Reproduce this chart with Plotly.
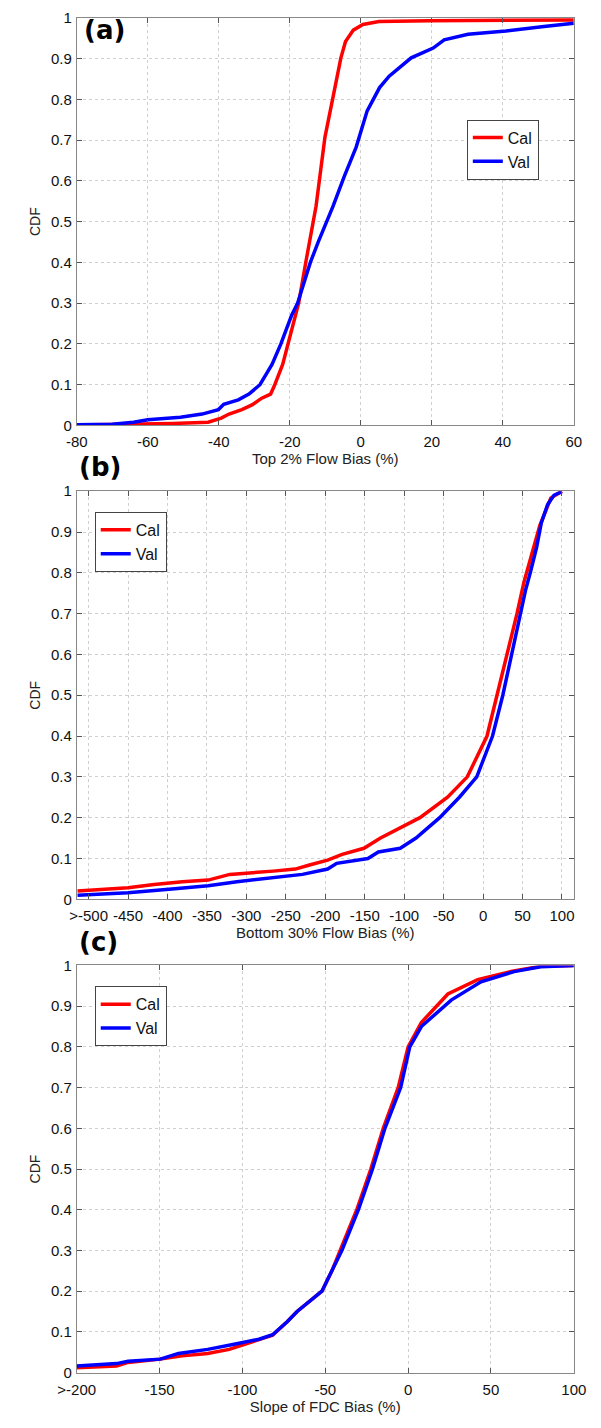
import plotly.graph_objects as go

# ---- Panel (a): Top 2% flow bias ----
a_cal_x = [-80, -63, -53, -43, -41.6, -39.3, -37.1, -33.5, -30.5, -27.9, -25.4, -24.4,
           -22, -20.5, -17.5, -15.5, -13.5, -12.6, -10.1, -7.9, -5.6, -4.3, -2.1, 0.6,
           5.1, 19.3, 60]
a_cal_y = [0.001, 0.003, 0.005, 0.008, 0.011, 0.018, 0.028, 0.039, 0.051, 0.067, 0.077, 0.096,
           0.15, 0.2, 0.3, 0.4, 0.5, 0.538, 0.707, 0.805, 0.902, 0.942, 0.97, 0.984,
           0.991, 0.993, 0.995]
a_val_x = [-80, -70, -64, -60, -50.8, -44.7, -40.1, -38.6, -34.5, -31.5, -28.4, -26.4,
           -25, -22.5, -19.5, -17.8, -14.2, -12, -9.5, -7.8, -4.7, -1.3, 1.8, 5.3, 8,
           14.2, 20.4, 23.5, 30.2, 40.9, 51.6, 60]
a_val_y = [0.002, 0.003, 0.008, 0.014, 0.02, 0.028, 0.039, 0.052, 0.063, 0.077, 0.1, 0.13,
           0.15, 0.2, 0.27, 0.3, 0.4, 0.45, 0.5, 0.538, 0.61, 0.683, 0.772, 0.829, 0.857,
           0.902, 0.926, 0.946, 0.96, 0.968, 0.979, 0.987]

# ---- Panel (b): Bottom 30% flow bias ----
b_cal_x = [-514, -450, -417, -381, -348.5, -321, -266, -238, -220, -197, -178.6, -151,
           -130, -80, -45, -20, 5, 18, 30, 43, 51.8, 63.8, 71.8, 85.8, 97.8, 100]
b_cal_y = [0.02, 0.028, 0.036, 0.043, 0.047, 0.061, 0.069, 0.074, 0.084, 0.096, 0.11, 0.125,
           0.15, 0.2, 0.25, 0.3, 0.4, 0.5, 0.6, 0.7, 0.777, 0.858, 0.915, 0.983, 0.999, 1.0]
b_val_x = [-514, -450, -394.4, -348.5, -312, -266, -229, -197, -185.5, -146, -132.7, -105,
           -85, -55, -30, -8, 12, 25, 36, 47, 53.8, 59.8, 67.8, 73.8, 81.8, 89.8, 99.8]
b_val_y = [0.01, 0.016, 0.025, 0.033, 0.043, 0.052, 0.061, 0.074, 0.088, 0.1, 0.116, 0.125,
           0.15, 0.2, 0.25, 0.3, 0.4, 0.5, 0.6, 0.7, 0.757, 0.8, 0.862, 0.922, 0.967, 0.99, 0.999]

# ---- Panel (c): Slope of FDC bias ----
c_cal_x = [-200, -176, -169, -149.6, -136.4, -121, -108, -95, -81.8, -73, -67, -52, -46,
           -41, -31, -22.5, -15, -6, 0, 8, 24, 42, 62, 80, 100]
c_cal_y = [0.012, 0.016, 0.025, 0.033, 0.041, 0.047, 0.057, 0.075, 0.092, 0.125, 0.15, 0.2, 0.25,
           0.3, 0.4, 0.5, 0.6, 0.7, 0.8, 0.86, 0.93, 0.965, 0.985, 0.998, 1.0]
c_val_x = [-200, -176, -169, -149.6, -138.6, -121, -103.5, -90, -81.8, -73, -67, -52, -46,
           -40, -30, -21.5, -14, -4.5, 1, 8, 26, 44, 64, 80, 100]
c_val_y = [0.016, 0.022, 0.028, 0.033, 0.047, 0.057, 0.071, 0.082, 0.093, 0.125, 0.15, 0.2, 0.25,
           0.3, 0.4, 0.5, 0.6, 0.7, 0.8, 0.85, 0.915, 0.96, 0.985, 0.997, 1.0]

y_ticks = [0, 0.1, 0.2, 0.3, 0.4, 0.5, 0.6, 0.7, 0.8, 0.9, 1]
y_ticktext = ["0", "0.1", "0.2", "0.3", "0.4", "0.5", "0.6", "0.7", "0.8", "0.9", "1"]

a_ticks = [-80, -60, -40, -20, 0, 20, 40, 60]
a_ticktext = ["-80", "-60", "-40", "-20", "0", "20", "40", "60"]
b_ticks = [-500, -450, -400, -350, -300, -250, -200, -150, -100, -50, 0, 50, 100]
b_ticktext = [">-500", "-450", "-400", "-350", "-300", "-250", "-200", "-150", "-100",
              "-50", "0", "50", "100"]
c_ticks = [-200, -150, -100, -50, 0, 50, 100]
c_ticktext = [">-200", "-150", "-100", "-50", "0", "50", "100"]

x_titles = ["Top 2% Flow Bias (%)", "Bottom 30% Flow Bias (%)", "Slope of FDC Bias (%)"]
panel_tags = ["(a)", "(b)", "(c)"]

W, H = 601, 1428
RED = "#ff0000"
BLUE = "#0000ff"
FONT = "Liberation Sans, Arial, sans-serif"

# pixel frames of the three axes boxes (left, right, top, bottom)
frames = [(61, 586, 9, 421.5), (61, 586, 488, 901), (61, 586, 968, 1380)]
x_ranges = [[-80, 60], [-515, 115], [-200, 100]]
x_ticks = [(a_ticks, a_ticktext), (b_ticks, b_ticktext), (c_ticks, c_ticktext)]
series = [
    (a_cal_x, a_cal_y, a_val_x, a_val_y),
    (b_cal_x, b_cal_y, b_val_x, b_val_y),
    (c_cal_x, c_cal_y, c_val_x, c_val_y),
]
legend_pos = [(473, 112), (80, 509), (80, 989)]

fig = go.Figure()
layout = dict(
    width=W, height=H,
    margin=dict(l=0, r=0, t=0, b=0),
    paper_bgcolor="white", plot_bgcolor="white",
    font=dict(family=FONT, size=15, color="#222222"),
    annotations=[],
)

for i in range(3):
    n = "" if i == 0 else str(i + 1)
    xa, ya = "x" + n, "y" + n
    cx, cy, vx, vy = series[i]
    leg = "legend" + n
    fig.add_trace(go.Scatter(x=cx, y=cy, mode="lines", name="Cal",
                             line=dict(color=RED, width=3.5), xaxis=xa, yaxis=ya, legend=leg))
    fig.add_trace(go.Scatter(x=vx, y=vy, mode="lines", name="Val",
                             line=dict(color=BLUE, width=3.5), xaxis=xa, yaxis=ya, legend=leg))

    left, right, top, bottom = frames[i]
    tv, tt = x_ticks[i]
    layout["xaxis" + n] = dict(
        domain=[left / W, right / W], anchor=ya, range=x_ranges[i],
        tickvals=tv, ticktext=tt, ticks="inside", ticklen=5, tickcolor="#555555",
        showline=True, linecolor="#888888", linewidth=1, mirror="ticks",
        showgrid=True, gridcolor="#d0d0d0", griddash="dot", gridwidth=1,
        zeroline=False, tickfont=dict(size=15, color="#111111"), ticklabelstandoff=3,
        title=dict(text=x_titles[i], font=dict(size=15, color="#222222"), standoff=2),
    )
    layout["yaxis" + n] = dict(
        domain=[(H - bottom) / H, (H - top) / H], anchor=xa, range=[0, 1],
        tickvals=y_ticks, ticktext=y_ticktext, ticks="inside", ticklen=5, tickcolor="#555555",
        showline=True, linecolor="#888888", linewidth=1, mirror="ticks",
        showgrid=True, gridcolor="#d0d0d0", griddash="dot", gridwidth=1,
        zeroline=False, tickfont=dict(size=15, color="#111111"), ticklabelstandoff=1,
        title=dict(text="CDF", font=dict(size=14, color="#222222"), standoff=6),
    )
    lx, ly = legend_pos[i]
    layout[leg] = dict(
        x=lx / W, y=(H - ly) / H, xanchor="left", yanchor="top",
        bgcolor="white", bordercolor="#444444", borderwidth=1,
        font=dict(size=16, color="#111111"), tracegroupgap=0, itemwidth=30,
    )
    # bold panel tag
    if i == 0:
        tag_x, tag_y = 67, 21
    else:
        tag_x, tag_y = 61, frames[i][2] - 24
    layout["annotations"].append(dict(
        text="<b>" + panel_tags[i] + "</b>", xref="paper", yref="paper",
        x=tag_x / W, y=(H - tag_y) / H, xanchor="left", yanchor="middle",
        showarrow=False, font=dict(family="DejaVu Sans", size=26, color="#000000"),
    ))

fig.update_layout(**layout)
fig.write_html("out.html")
